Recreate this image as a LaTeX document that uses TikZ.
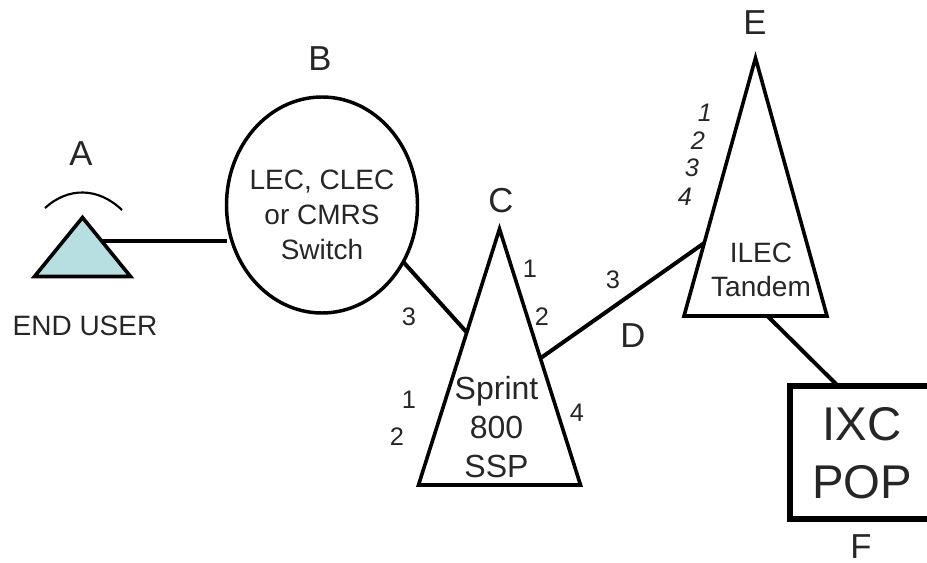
\documentclass[tikz,border=0pt]{standalone}
\usepackage{fontspec}
\setmainfont{Liberation Sans}
\usepackage{tikz}
\usetikzlibrary{positioning,calc,shapes.geometric}
\definecolor{userFill}{HTML}{B7DEE1}

\begin{document}
\begin{tikzpicture}[
    x=0.75pt, y=-0.75pt,
    site/.style={
        isosceles triangle, isosceles triangle stretches, shape border rotate=90,
        draw=black, line width=2.7pt, inner sep=0pt, outer sep=0pt, anchor=lower side
    },
    link/.style={draw=black, line width=3pt},
    letter/.style={font=\fontsize{26}{26}\selectfont, text=black!85, inner sep=0pt},
    caption/.style={font=\fontsize{21}{26}\selectfont, text=black!85, align=center, inner sep=0pt},
    num/.style={font=\fontsize{19}{19}\selectfont, text=black!85, inner sep=0pt},
    numit/.style={num, font=\fontsize{19}{19}\selectfont\itshape}
]
\useasboundingbox (0,0) rectangle (927,563);

% Sites
\node[site, fill=userFill, minimum height=59*0.75pt, minimum width=96*0.75pt] (aTri) at (82.5,276.5) {};
\node[ellipse, draw=black, line width=2.6pt, minimum width=191*0.75pt, minimum height=216*0.75pt, inner sep=0pt, outer sep=0pt] (bSwitch) at (322,205) {};
\node[site, minimum height=256*0.75pt, minimum width=162*0.75pt] (cTri) at (499.5,485) {};
\node[site, minimum height=258*0.75pt, minimum width=143*0.75pt] (eTri) at (755.5,316) {};
\node[rectangle, draw=black, line width=4.5pt, minimum width=144*0.75pt, minimum height=133*0.75pt, inner sep=0pt, outer sep=0pt] (fPop) at (862,452.5) {};

% Ends of the links on the triangle sides
\path (aTri.apex) -- (aTri.right corner) coordinate[pos=0.4] (aOut);
\path (cTri.apex) -- (cTri.left corner) coordinate[pos=0.404] (cIn);
\path (cTri.apex) -- (cTri.right corner) coordinate[pos=0.505] (cOut);
\path (eTri.apex) -- (eTri.left corner) coordinate[pos=0.717] (eIn);
\coordinate (eOut) at ($(eTri.lower side)+(12,0)$);
\coordinate (fIn) at ($(fPop.north)+(-24,0)$);

% Links
\draw[link] (aOut) -- (aOut -| bSwitch.west);
\draw[link] (bSwitch.-35.6) -- (cIn);
\draw[link] (cOut) -- (eIn);
\draw[link] (eOut) -- (fIn);

% Signal arc of the end user
\draw[line width=1.6pt] (45,208) .. controls (68,187) and (98,187) .. (122,210);

% Letters
\foreach \name/\txt/\x/\y in {
    lblA/A/81/154, lblB/B/320/59, lblC/C/501/201, lblD/D/633/336, lblE/E/755/23, lblF/F/861/547}
{
    \node[letter] (\name) at (\x,\y) {\txt};
}

% Texts
\node[caption] (endUser) at (85,326) {END USER};
\node[caption] (bText) at (322,215) {LEC, CLEC\\or CMRS\\Switch};
\node[caption, font=\fontsize{24}{29}\selectfont] (cText) at (496.5,427) {Sprint\\800\\SSP};
\node[caption] (eText) at (761,270) {ILEC\\Tandem};
\node[caption, font=\fontsize{35.5}{43.5}\selectfont] (fText) at (862,453) {IXC\\POP};

% Port numbers
\foreach \name/\txt/\x/\y in {
    numCa/1/530/269, numCb/2/542/317, numCc/3/409/317, numCd/1/409/400,
    numCe/2/397/437, numCf/4/577/413, numD/3/613/280}
{
    \node[num] (\name) at (\x,\y) {\txt};
}
\foreach \name/\txt/\x/\y in {
    numEa/1/705/113, numEb/2/698/141, numEc/3/692/168, numEd/4/685/197}
{
    \node[numit] (\name) at (\x,\y) {\txt};
}

\end{tikzpicture}
\end{document}
